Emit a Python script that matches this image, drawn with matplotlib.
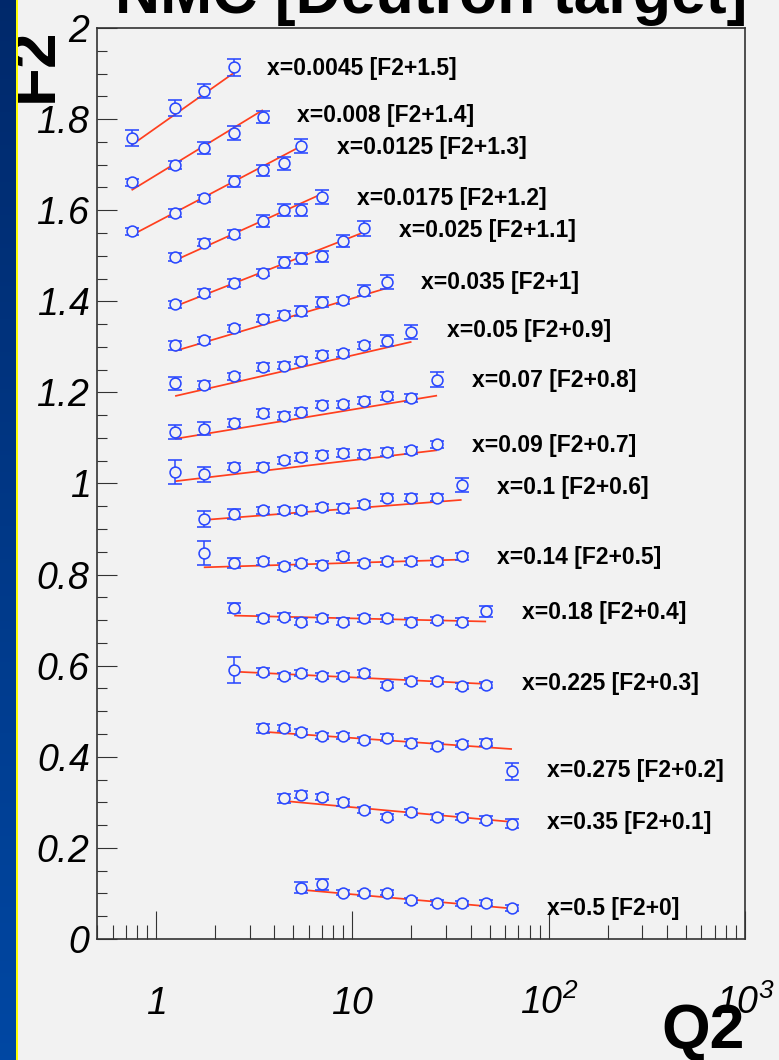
import numpy as np
import matplotlib
matplotlib.use("Agg")
import matplotlib.pyplot as plt
from matplotlib.ticker import (FixedLocator, FixedFormatter, MultipleLocator,
                               LogLocator, NullFormatter, FuncFormatter)
from matplotlib.patches import Rectangle

plt.rcParams['font.family'] = ['Liberation Sans', 'DejaVu Sans']
plt.rcParams['mathtext.fontset'] = 'custom'
plt.rcParams['mathtext.rm'] = 'Liberation Sans:italic'
plt.rcParams['mathtext.it'] = 'Liberation Sans:italic'

# ---------------------------------------------------------------- data
Q2_BINS = [0.75, 1.25, 1.75, 2.5, 3.5, 4.5, 5.5, 7.0, 9.0, 11.5,
           15.0, 20.0, 27.0, 36.0, 48.0, 65.0]

X_BJ = ['0.0045', '0.008', '0.0125', '0.0175', '0.025', '0.035', '0.05',
        '0.07', '0.09', '0.1', '0.14', '0.18', '0.225', '0.275', '0.35', '0.5']
OFFSETS = [1.5, 1.4, 1.3, 1.2, 1.1, 1.0, 0.9, 0.8, 0.7, 0.6, 0.5, 0.4,
           0.3, 0.2, 0.1, 0.0]
FIRST_BIN = [0, 0, 0, 1, 1, 1, 1, 1, 1, 2, 2, 3, 3, 4, 5, 6]

# measured F2 (without the plotting offset)
F2_X0045 = [0.258, 0.324, 0.362, 0.414]
F2_X008 = [0.261, 0.299, 0.337, 0.369, 0.405]
F2_X0125 = [0.254, 0.294, 0.326, 0.364, 0.388, 0.403, 0.441]
F2_X0175 = [0.297, 0.329, 0.347, 0.376, 0.400, 0.401, 0.429]
F2_X025 = [0.293, 0.318, 0.340, 0.363, 0.386, 0.394, 0.399, 0.433, 0.460]
F2_X035 = [0.303, 0.314, 0.341, 0.362, 0.371, 0.378, 0.398, 0.402, 0.423, 0.442]
F2_X05 = [0.320, 0.317, 0.335, 0.356, 0.359, 0.370, 0.383, 0.386, 0.403,
          0.413, 0.433]
F2_X07 = [0.313, 0.320, 0.333, 0.355, 0.348, 0.358, 0.373, 0.374, 0.382,
          0.392, 0.388, 0.428]
F2_X09 = [0.325, 0.320, 0.337, 0.337, 0.351, 0.358, 0.363, 0.367, 0.365,
          0.369, 0.373, 0.386]
F2_X10 = [0.322, 0.333, 0.341, 0.341, 0.341, 0.348, 0.346, 0.354, 0.369,
          0.369, 0.369, 0.396]
F2_X14 = [0.348, 0.326, 0.329, 0.318, 0.326, 0.322, 0.340, 0.325, 0.329,
          0.329, 0.329, 0.340]
F2_X18 = [0.326, 0.304, 0.308, 0.297, 0.304, 0.297, 0.304, 0.304, 0.297,
          0.301, 0.297, 0.319]
F2_X225 = [0.291, 0.287, 0.277, 0.284, 0.277, 0.278, 0.283, 0.258, 0.266,
           0.266, 0.256, 0.258]
F2_X275 = [0.263, 0.263, 0.255, 0.246, 0.246, 0.237, 0.242, 0.231, 0.224,
           0.228, 0.231, 0.168]
F2_X35 = [0.209, 0.217, 0.212, 0.200, 0.183, 0.168, 0.179, 0.168, 0.168,
          0.162, 0.153]
F2_X50 = [0.113, 0.120, 0.102, 0.100, 0.102, 0.085, 0.080, 0.078, 0.079, 0.068]

ERR_X0045 = [0.018, 0.017, 0.016, 0.019]
ERR_X008 = [0.008, 0.008, 0.013, 0.015, 0.013]
ERR_X0125 = [0.008, 0.008, 0.008, 0.012, 0.012, 0.014, 0.016]
ERR_X0175 = [0.008, 0.008, 0.009, 0.013, 0.013, 0.013, 0.015]
ERR_X025 = [0.008, 0.008, 0.008, 0.008, 0.012, 0.012, 0.012, 0.013, 0.016]
ERR_X035 = [0.010, 0.008, 0.008, 0.008, 0.008, 0.011, 0.011, 0.008, 0.012, 0.016]
ERR_X05 = [0.014, 0.009, 0.008, 0.008, 0.008, 0.008, 0.008, 0.008, 0.008,
           0.012, 0.015]
ERR_X07 = [0.016, 0.014, 0.008, 0.008, 0.008, 0.008, 0.008, 0.008, 0.008,
           0.008, 0.008, 0.016]
ERR_X09 = [0.026, 0.016, 0.008, 0.008, 0.008, 0.008, 0.008, 0.008, 0.008,
           0.008, 0.008, 0.008]
ERR_X10 = [0.018, 0.011, 0.008, 0.008, 0.008, 0.008, 0.010, 0.008, 0.008,
           0.008, 0.008, 0.015]
ERR_X14 = [0.026, 0.011, 0.007, 0.007, 0.007, 0.007, 0.007, 0.007, 0.007,
           0.007, 0.007, 0.008]
ERR_X18 = [0.011, 0.007, 0.007, 0.007, 0.007, 0.007, 0.007, 0.007, 0.007,
           0.007, 0.007, 0.012]
ERR_X225 = [0.028, 0.007, 0.007, 0.007, 0.007, 0.007, 0.007, 0.007, 0.007,
            0.007, 0.007, 0.007]
ERR_X275 = [0.010, 0.007, 0.007, 0.007, 0.007, 0.007, 0.007, 0.007, 0.007,
            0.007, 0.007, 0.019]
ERR_X35 = [0.010, 0.007, 0.007, 0.007, 0.007, 0.007, 0.007, 0.007, 0.007,
           0.007, 0.010]
ERR_X50 = [0.012, 0.012, 0.006, 0.006, 0.006, 0.006, 0.006, 0.006, 0.006, 0.006]

# straight-line fits in log(Q2): F2 at the first and the last Q2 bin
FIT_LOW = [0.243, 0.244, 0.245, 0.290, 0.289, 0.291, 0.292, 0.298, 0.305,
           0.320, 0.316, 0.310, 0.287, 0.255, 0.203, 0.108]
FIT_HIGH = [0.402, 0.420, 0.441, 0.436, 0.452, 0.429, 0.411, 0.393, 0.373,
            0.364, 0.333, 0.297, 0.260, 0.217, 0.157, 0.067]

F2_DATA = [F2_X0045, F2_X008, F2_X0125, F2_X0175, F2_X025, F2_X035, F2_X05,
           F2_X07, F2_X09, F2_X10, F2_X14, F2_X18, F2_X225, F2_X275, F2_X35,
           F2_X50]
ERR_DATA = [ERR_X0045, ERR_X008, ERR_X0125, ERR_X0175, ERR_X025, ERR_X035,
            ERR_X05, ERR_X07, ERR_X09, ERR_X10, ERR_X14, ERR_X18, ERR_X225,
            ERR_X275, ERR_X35, ERR_X50]

# where each curve's caption starts (Q2, plotted F2)
LABEL_XY = [(3.69, 1.912), (5.25, 1.809), (8.31, 1.738), (10.5, 1.626),
            (17.2, 1.556), (22.3, 1.442), (30.3, 1.336), (40.7, 1.226),
            (40.7, 1.084), (54.6, 0.991), (54.6, 0.837), (73.3, 0.717),
            (73.3, 0.560), (98.4, 0.369), (98.4, 0.255), (98.4, 0.068)]

# ---------------------------------------------------------------- style
W, H = 779, 1060
BG = '#f2f2f2'
BLUE = '#2a48ff'
RED = '#ff3f1e'
FRAME = '#333333'

fig = plt.figure(figsize=(W / 100, H / 100), dpi=100, facecolor=BG)
ax = fig.add_axes([97 / W, 1 - 939 / H, (745 - 97) / W, (939 - 28) / H])
ax.set_facecolor(BG)
ax.set_xscale('log')
ax.set_xlim(0.5, 1000)
ax.set_ylim(0, 2)

for i, (xb, off) in enumerate(zip(X_BJ, OFFSETS)):
    vals = np.asarray(F2_DATA[i]) + off
    q2 = np.asarray(Q2_BINS[FIRST_BIN[i]:FIRST_BIN[i] + len(vals)])
    ax.plot([q2[0], q2[-1]], [FIT_LOW[i] + off, FIT_HIGH[i] + off],
            color=RED, lw=1.25, zorder=2, solid_capstyle='butt')
    ax.errorbar(q2, vals, yerr=ERR_DATA[i], fmt='o', ms=7.8, mfc=BG,
                mec=BLUE, mew=1.15, ecolor=BLUE, elinewidth=1.1,
                capsize=5.0, capthick=1.1, zorder=3)
    lx, ly = LABEL_XY[i]
    ax.text(lx, ly, f'x={xb} [F2+{off:g}]', fontsize=16.5, fontweight='bold',
            ha='left', va='center', color='black', zorder=4)

# axes, ticks
for sp in ax.spines.values():
    sp.set_color(FRAME)
    sp.set_linewidth(1.2)

ax.xaxis.set_major_locator(FixedLocator([1, 10, 100, 1000]))
ax.xaxis.set_major_formatter(
    FixedFormatter(['$1$', '$10$', '$10^{2}$', '$10^{3}$']))
ax.xaxis.set_minor_locator(LogLocator(base=10, subs=np.arange(2, 10)))
ax.xaxis.set_minor_formatter(NullFormatter())
ax.yaxis.set_major_locator(MultipleLocator(0.2))
ax.yaxis.set_minor_locator(MultipleLocator(0.05))
ax.yaxis.set_major_formatter(FuncFormatter(lambda v, p: f'${v:g}$'))

ax.tick_params(axis='both', which='both', direction='in', color=FRAME,
               width=0.8, top=False, right=False, labelcolor='black')
ax.tick_params(axis='y', which='major', length=14.4, pad=5, labelsize=27)
ax.tick_params(axis='y', which='minor', length=7.2)
ax.tick_params(axis='x', which='major', length=20, pad=54, labelsize=27)
ax.tick_params(axis='x', which='minor', length=10)
for t in ax.xaxis.get_major_ticks():
    t.label1.set_va('baseline')

# titles
fig.text(431 / W, 1 - 13 / H, 'NMC [Deutron target]', ha='center',
         va='baseline', fontsize=45, fontweight='bold', color='black')
fig.text(52 / W, 1 - 28 / H, 'F2', rotation=90, rotation_mode='anchor',
         ha='right', va='baseline', fontsize=46, fontweight='bold',
         color='black')
fig.text(745 / W, 1 - 1048 / H, 'Q2', ha='right', va='baseline',
         fontsize=45, fontweight='bold', color='black')

# left border: blue gradient strip and yellow rule
strip = fig.add_axes([0, 0, 16 / W, 1], zorder=10)
grad = np.linspace(0, 1, 256)[:, None]
top_c = np.array([0.0, 0.16, 0.42])
bot_c = np.array([0.0, 0.28, 0.64])
img = top_c[None, None, :] * (1 - grad[:, :, None]) + bot_c[None, None, :] * grad[:, :, None]
strip.imshow(img, aspect='auto', extent=[0, 1, 0, 1])
strip.set_axis_off()
fig.patches.append(Rectangle((16 / W, 0), 2.5 / W, 1, transform=fig.transFigure,
                             facecolor='#ffff00', edgecolor='none', zorder=11))

fig.savefig('out.png', dpi=100, facecolor=BG)
